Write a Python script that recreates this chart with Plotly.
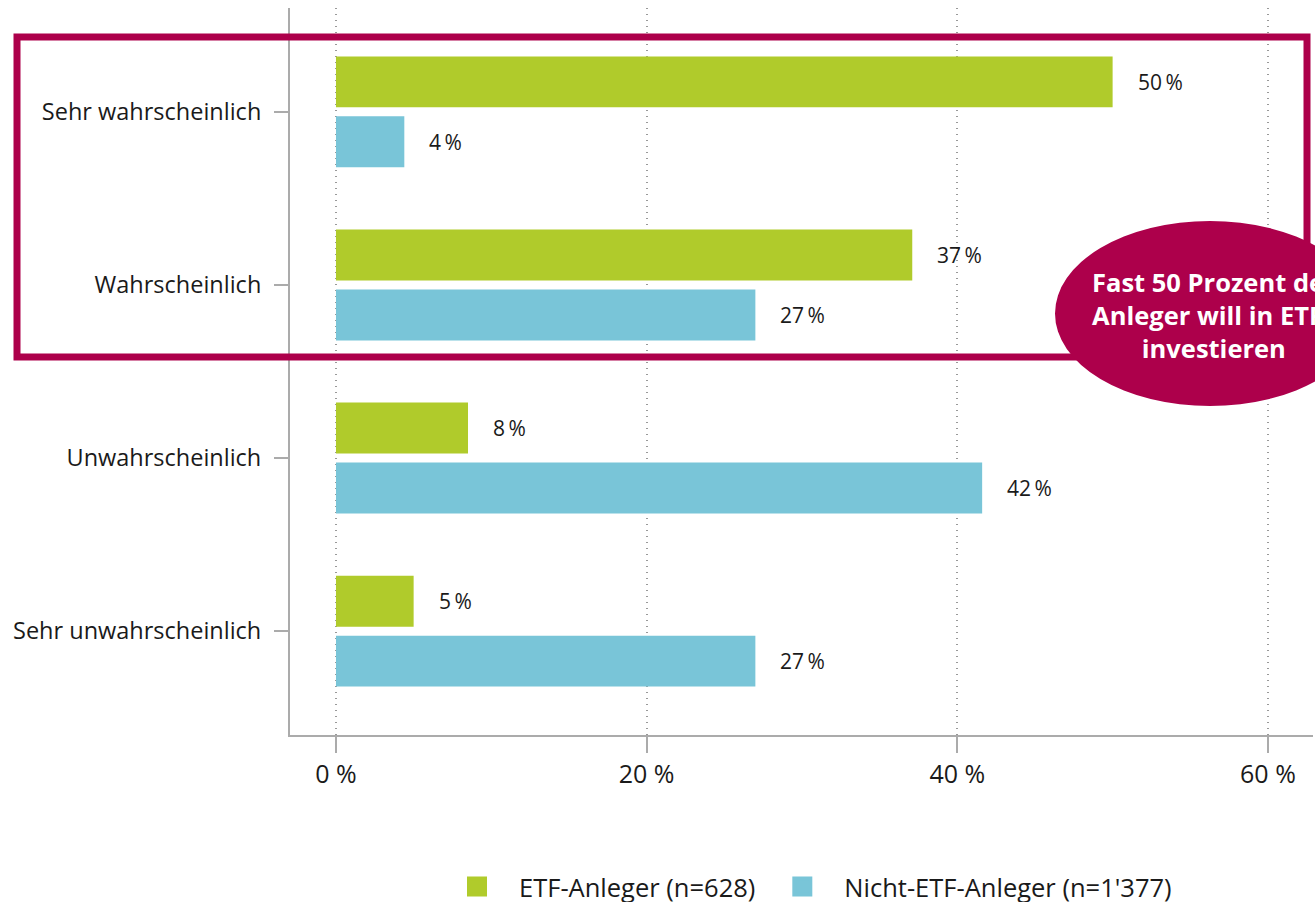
import plotly.graph_objects as go

categories = ["Sehr wahrscheinlich", "Wahrscheinlich", "Unwahrscheinlich", "Sehr unwahrscheinlich"]
etf_values = [50.0, 37.1, 8.5, 5.0]
etf_labels = ["50\u2009%", "37\u2009%", "8\u2009%", "5\u2009%"]
non_etf_values = [4.4, 27.0, 41.6, 27.0]
non_etf_labels = ["4\u2009%", "27\u2009%", "42\u2009%", "27\u2009%"]
series_names = ["ETF-Anleger (n=628)", "Nicht-ETF-Anleger (n=1'377)"]
tick_vals = [0, 20, 40, 60]
tick_text = ["0 %", "20 %", "40 %", "60 %"]
callout_text = "Fast 50 Prozent der<br>Anleger will in ETFs<br>investieren"

GREEN = "#B0CB2B"
BLUE = "#79C5D8"
CRIMSON = "#AD004B"
GREY = "#ABABAB"
TEXT = "#1a1a1a"
FONT = "Open Sans"

fig = go.Figure()
fig.add_trace(go.Bar(y=categories, x=etf_values, orientation="h", name=series_names[0],
                     marker=dict(color=GREEN, line=dict(width=0)), showlegend=False))
fig.add_trace(go.Bar(y=categories, x=non_etf_values, orientation="h", name=series_names[1],
                     marker=dict(color=BLUE, line=dict(width=0)), showlegend=False))
# legend entries with large square swatches
for name, col in zip(series_names, [GREEN, BLUE]):
    fig.add_trace(go.Scatter(x=[None], y=[None], mode="markers", name=name,
                             marker=dict(symbol="square", size=16, color=col, line=dict(color=col, width=4)),
                             showlegend=True))

annotations = []
for cat, v, lab in zip(categories, etf_values, etf_labels):
    annotations.append(dict(x=v, y=cat, text=lab, showarrow=False, xanchor="left",
                            xshift=23, yshift=30, font=dict(size=21, color=TEXT, family=FONT)))
for cat, v, lab in zip(categories, non_etf_values, non_etf_labels):
    annotations.append(dict(x=v, y=cat, text=lab, showarrow=False, xanchor="left",
                            xshift=23, yshift=-30, font=dict(size=21, color=TEXT, family=FONT)))

# plot area: x 290..1313 px, y 8..735 px
def px_x(p):
    return (p - 290) / 1023.0

def px_y(p):
    return (735 - p) / 727.0

annotations.append(dict(x=px_x(1214), y=px_y(315), xref="paper", yref="paper", text=callout_text,
                        showarrow=False, xanchor="center", yanchor="middle", align="center",
                        font=dict(size=25.5, color="white", family=FONT, weight="bold")))

shapes = [
    dict(type="rect", xref="paper", yref="paper", x0=px_x(17), x1=px_x(1307), y0=px_y(357), y1=px_y(37),
         line=dict(color=CRIMSON, width=7), fillcolor="rgba(0,0,0,0)", layer="above"),
    dict(type="circle", xref="paper", yref="paper", x0=px_x(1055), x1=px_x(1365), y0=px_y(406), y1=px_y(221),
         line=dict(color=CRIMSON, width=0), fillcolor=CRIMSON, layer="above"),
]

fig.update_layout(
    width=1315, height=902,
    margin=dict(l=290, r=2, t=8, b=167, autoexpand=False),
    paper_bgcolor="white", plot_bgcolor="white",
    barmode="group", bargap=0.3075, bargroupgap=0.15,
    font=dict(family=FONT, size=22, color=TEXT),
    showlegend=True,
    legend=dict(orientation="h", xref="container", yref="container", x=806 / 1315, xanchor="center",
                y=(902 - 887) / 902, yanchor="middle", itemwidth=74,
                font=dict(size=25.5, family=FONT, color=TEXT), traceorder="normal"),
    annotations=annotations,
    shapes=shapes,
)
fig.update_xaxes(range=[-2.96, 62.9], tickvals=tick_vals, ticktext=tick_text, automargin=False,
                 showgrid=True, gridcolor="#999999", griddash="1px,5px", gridwidth=1.5, zeroline=False,
                 showline=True, linecolor=GREY, linewidth=2, ticks="outside", ticklen=16,
                 tickcolor=GREY, tickwidth=2, tickfont=dict(size=25, family=FONT, color=TEXT))
fig.update_yaxes(type="category", categoryorder="array", categoryarray=categories, range=[3.6, -0.6],
                 automargin=False,
                 showgrid=False, zeroline=False, showline=True, linecolor=GREY, linewidth=2,
                 ticks="outside", ticklen=14, tickcolor=GREY, tickwidth=2, ticklabelstandoff=8,
                 tickfont=dict(size=23.5, family=FONT, color=TEXT))

fig.write_html("out.html", config={"displayModeBar": False},
               post_script="document.body.style.margin='0';")
